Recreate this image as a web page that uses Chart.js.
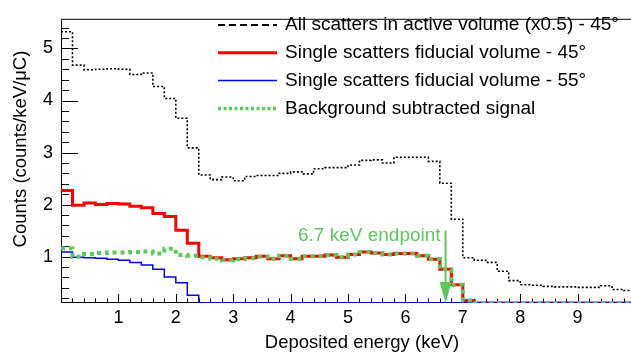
<!DOCTYPE html>
<html>
<head>
<meta charset="utf-8">
<script src="https://cdn.jsdelivr.net/npm/chart.js@4.4.0/dist/chart.umd.min.js"></script>
<style>
  html, body { margin: 0; padding: 0; background: #fff; }
  #wrap { width: 631px; height: 357px; }
</style>
</head>
<body>
<div id="wrap"><canvas id="chart" width="631" height="357"></canvas></div>
<script>
const FONT = "'Liberation Sans', Arial, Helvetica, sans-serif";

// histogram bin edges, deposited energy in keV
const binEdges = [0.0, 0.2, 0.4, 0.6, 0.8, 1.0, 1.2, 1.4, 1.6, 1.8,
                  2.0, 2.2, 2.4, 2.6, 2.8, 3.0, 3.2, 3.4, 3.6, 3.8,
                  4.0, 4.2, 4.4, 4.6, 4.8, 5.0, 5.2, 5.4, 5.6, 5.8,
                  6.0, 6.2, 6.4, 6.6, 6.8, 7.0, 7.2, 7.4, 7.6, 7.8,
                  8.0, 8.2, 8.4, 8.6, 8.8, 9.0, 9.2, 9.4, 9.6, 9.8, 10.0];

// counts/keV/uC per bin
const allScatters = [5.32, 4.68, 4.59, 4.60, 4.61, 4.60, 4.50, 4.53, 4.27, 4.04,
                     3.66, 3.09, 2.57, 2.48, 2.53, 2.46, 2.54, 2.56, 2.56, 2.60,
                     2.63, 2.59, 2.69, 2.71, 2.71, 2.76, 2.85, 2.86, 2.80, 2.91,
                     2.91, 2.91, 2.83, 2.41, 1.72, 0.98, 0.93, 0.89, 0.72, 0.54,
                     0.46, 0.45, 0.43, 0.42, 0.42, 0.41, 0.41, 0.44, 0.37, 0.35];
const singleFid45 = [2.27, 1.99, 2.03, 2.00, 2.02, 2.01, 1.97, 1.94, 1.83, 1.77,
                     1.51, 1.26, 1.01, 0.98, 0.94, 0.96, 0.98, 1.01, 0.96, 1.02,
                     0.96, 1.01, 1.01, 1.03, 0.99, 1.04, 1.09, 1.07, 1.04, 1.06,
                     1.06, 1.02, 0.95, 0.76, 0.46, 0.16, 0, 0, 0, 0,
                     0, 0, 0, 0, 0, 0, 0, 0, 0, 0];
const singleFid55 = [1.09, 0.99, 0.98, 0.97, 0.95, 0.93, 0.89, 0.84, 0.76, 0.61,
                     0.50, 0.26, 0, 0, 0, 0, 0, 0, 0, 0,
                     0, 0, 0, 0, 0, 0, 0, 0, 0, 0,
                     0, 0, 0, 0, 0, 0, 0, 0, 0, 0,
                     0, 0, 0, 0, 0, 0, 0, 0, 0, 0];
const bkgSubtracted = [1.16, 1.00, 1.05, 1.07, 1.08, 1.08, 1.09, 1.10, 1.06, 1.15,
                       1.03, 1.02, 0.99, 0.96, 0.93, 0.95, 0.97, 1.00, 0.96, 1.02,
                       0.96, 1.01, 1.01, 1.03, 0.99, 1.04, 1.09, 1.07, 1.04, 1.06,
                       1.06, 1.02, 0.95, 0.76, 0.46, 0.16, 0, 0, 0, 0,
                       0, 0, 0, 0, 0, 0, 0, 0, 0, 0];

const xTicks = [1, 2, 3, 4, 5, 6, 7, 8, 9];
const yTicks = [1, 2, 3, 4, 5];
const legendLabels = [
  'All scatters in active volume (x0.5) - 45\u00b0',
  'Single scatters fiducial volume - 45\u00b0',
  'Single scatters fiducial volume - 55\u00b0',
  'Background subtracted signal'
];
const endpointEnergy = 6.7;
const endpointArrowTop = 1.5;
const endpointLabel = '6.7 keV endpoint';

const X_MIN = 0, X_MAX = 9.93;
const Y_MIN = 0.11, Y_MAX = 5.57;
const GREEN = '#5cc85c';

// point i sits on the bin's lower edge; stepped:'before' carries it over to the next edge.
// the extra last edge repeats the last bin. empty bins sit on the bottom of the frame like in the original
function toSteps(vals) {
  return binEdges.map((x, i) => ({ x: x, y: Math.max(vals[Math.min(i, vals.length - 1)], Y_MIN) }));
}

const legendSamples = [
  { color: '#000', width: 2, dash: [7, 4] },
  { color: '#ff0000', width: 3, dash: [] },
  { color: '#0000ff', width: 1.5, dash: [] },
  { color: GREEN, width: 3.5, dash: [3, 2.5] }
];

const rootStyle = {
  id: 'rootStyle',
  beforeDatasetsDraw(chart) {
    const { ctx, chartArea: a, scales: { x, y } } = chart;
    ctx.save();
    ctx.strokeStyle = '#000';
    ctx.lineWidth = 1;
    ctx.beginPath();
    // frame
    ctx.moveTo(a.left + 0.5, a.bottom);
    ctx.lineTo(a.left + 0.5, a.top + 0.5);
    ctx.lineTo(a.right, a.top + 0.5);
    ctx.moveTo(a.left, a.bottom - 0.5);
    ctx.lineTo(a.right, a.bottom - 0.5);
    // x ticks, inward
    for (let k = 1; k * 0.2 < X_MAX; k++) {
      const px = Math.round(x.getPixelForValue(k * 0.2)) + 0.5;
      const len = k % 5 === 0 ? 9 : 4.5;
      ctx.moveTo(px, a.bottom);
      ctx.lineTo(px, a.bottom - len);
    }
    // y ticks, inward
    for (let k = 1; k * 0.2 < Y_MAX; k++) {
      const v = k * 0.2;
      if (v < Y_MIN) continue;
      const py = Math.round(y.getPixelForValue(v)) + 0.5;
      const len = k % 5 === 0 ? 17 : 8;
      ctx.moveTo(a.left, py);
      ctx.lineTo(a.left + len, py);
    }
    ctx.stroke();
    ctx.restore();
  },
  afterDatasetsDraw(chart) {
    const { ctx, chartArea: a, scales: { x, y } } = chart;
    ctx.save();
    ctx.fillStyle = '#000';

    // axis titles
    ctx.font = '18.5px ' + FONT;
    ctx.textAlign = 'center';
    ctx.textBaseline = 'middle';
    ctx.fillText('Deposited energy (keV)', 362, 343);
    ctx.save();
    ctx.translate(21, 149);
    ctx.rotate(-Math.PI / 2);
    ctx.fillText('Counts (counts/keV/\u03bcC)', 0, 0);
    ctx.restore();

    // legend
    ctx.font = '19px ' + FONT;
    ctx.textAlign = 'left';
    legendLabels.forEach((label, i) => {
      const ly = 25 + i * 27.8;
      const s = legendSamples[i];
      ctx.save();
      ctx.strokeStyle = s.color;
      ctx.lineWidth = s.width;
      ctx.setLineDash(s.dash);
      ctx.beginPath();
      ctx.moveTo(218, ly);
      ctx.lineTo(277, ly);
      ctx.stroke();
      ctx.restore();
      ctx.fillText(label, 285, ly);
    });

    // endpoint arrow
    const ax = x.getPixelForValue(endpointEnergy);
    const top = y.getPixelForValue(endpointArrowTop);
    ctx.strokeStyle = GREEN;
    ctx.fillStyle = GREEN;
    ctx.lineWidth = 2;
    ctx.beginPath();
    ctx.moveTo(ax, top);
    ctx.lineTo(ax, a.bottom - 18);
    ctx.stroke();
    ctx.beginPath();
    ctx.moveTo(ax - 6, a.bottom - 21);
    ctx.lineTo(ax + 6, a.bottom - 21);
    ctx.lineTo(ax, a.bottom);
    ctx.closePath();
    ctx.fill();
    ctx.textAlign = 'right';
    ctx.fillText(endpointLabel, ax - 5, top + 5);
    ctx.restore();
  }
};

new Chart(document.getElementById('chart'), {
  type: 'line',
  data: {
    datasets: [
      { label: legendLabels[3], data: toSteps(bkgSubtracted), borderColor: GREEN, borderWidth: 4, borderDash: [4, 4], order: 0 },
      { label: legendLabels[2], data: toSteps(singleFid55), borderColor: '#0000ff', borderWidth: 1.5, order: 1 },
      { label: legendLabels[1], data: toSteps(singleFid45), borderColor: '#ff0000', borderWidth: 3, order: 2 },
      { label: legendLabels[0], data: toSteps(allScatters), borderColor: '#000', borderWidth: 1.6, borderDash: [2, 2], order: 3 }
    ].map(d => Object.assign(d, { stepped: 'before', pointRadius: 0, fill: false, tension: 0 }))
  },
  options: {
    responsive: false,
    animation: false,
    devicePixelRatio: 1,
    layout: { padding: { top: 5, right: 0, left: 0, bottom: 0 } },
    plugins: { legend: { display: false }, tooltip: { enabled: false } },
    scales: {
      x: {
        type: 'linear', min: X_MIN, max: X_MAX,
        grid: { display: false, drawTicks: false, tickLength: 0 }, border: { display: false },
        ticks: { color: '#000', font: { family: FONT, size: 18 }, padding: 4, maxRotation: 0, autoSkip: false, callback: v => String(v) },
        afterBuildTicks: s => { s.ticks = xTicks.map(v => ({ value: v })); },
        afterFit: s => { s.height = 54; }
      },
      y: {
        type: 'linear', min: Y_MIN, max: Y_MAX,
        grid: { display: false, drawTicks: false, tickLength: 0 }, border: { display: false },
        ticks: { color: '#000', font: { family: FONT, size: 18 }, padding: 8, autoSkip: false, callback: v => String(v) },
        afterBuildTicks: s => { s.ticks = yTicks.map(v => ({ value: v })); },
        afterFit: s => { s.width = 61; }
      }
    }
  },
  plugins: [rootStyle]
});
</script>
</body>
</html>
